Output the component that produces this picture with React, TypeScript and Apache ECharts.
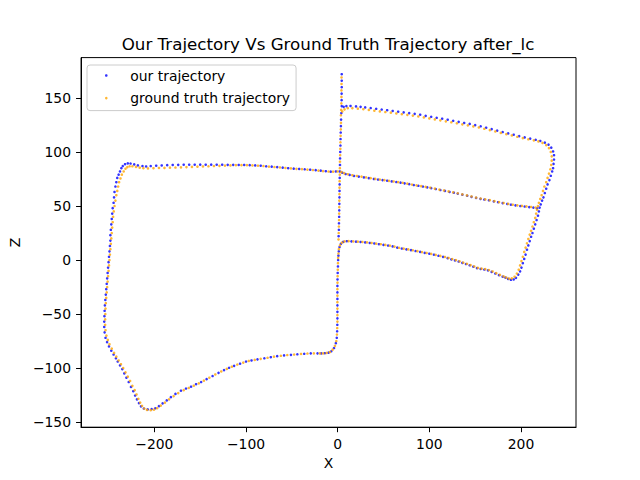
import * as echarts from "echarts";
import { useEffect, useRef } from "react";

// x / z pairs
const ourTrajectory = [
  [4.4, 172], [4.4, 166], [4.4, 160], [4.3, 154], [4.3, 148], [4.4, 142.5],
  [6.5, 141.8], [9.5, 142.5], [14, 142.6], [20, 142.2], [25, 141.8], [30, 141.3], [36, 140.7], [42, 140],
  [48, 139.3], [54, 138.7], [60, 138], [66, 137.3], [72, 136.7], [78, 136], [84, 135.3], [90, 134.5],
  [96, 133.5], [102, 132.6], [108, 131.7], [114, 130.8], [120, 129.9], [126, 128.9], [132, 127.9],
  [138, 126.9], [144, 126], [150, 124.9], [156, 123.8], [162, 122.5], [168, 121.2], [174, 119.8],
  [180, 118.5], [186, 117.2], [192, 116], [198, 114.7], [204, 113.5], [210, 112.4], [216, 111.3],
  [221, 110.2], [226, 108.7], [230, 106.8], [233, 104], [235, 100.5], [236, 97], [236, 93], [235.5, 89], [235, 85],
  [234, 82], [232.5, 78], [231, 74], [229, 70], [227.5, 66], [226, 62], [224.5, 58], [223, 55], [221.5, 51.5],
  [220.3, 48.5], [219.5, 45], [218.5, 41], [217, 37], [215.5, 33], [214, 29], [212.5, 25], [211, 21.5],
  [209.5, 17.5], [208, 13.5], [206.5, 9.5], [205, 5], [203.5, 1], [202, -3], [200.5, -7], [199, -10.5],
  [197, -13.5], [194.5, -16.5], [192, -18], [189, -18.3], [186, -17.5], [183, -16.3],
  [180, -15.5], [176, -14], [172, -12.5], [168, -11], [164, -9.6], [160, -8.8], [156, -8.3], [152, -7.5],
  [148, -6.2], [144, -4.9], [140, -3.7], [136, -2.6], [132, -1.4], [128, -0.4], [124, 0.6], [120, 1.7],
  [115, 2.9], [110, 3.9], [105, 4.9], [100, 5.8], [95, 6.6], [90, 7.5], [85, 8.3], [80, 9.1], [75, 9.9],
  [70, 10.6], [65, 11.5], [60, 12.6], [55, 13.4], [50, 14], [45, 14.6], [40, 15.3], [35, 15.8], [30, 16.3],
  [25, 16.7], [20, 17], [15, 17.3], [10, 17.4], [6, 16.8], [3.5, 15], [2, 12], [1.2, 8], [0.8, 4],
  [0.5, 0], [0.3, -6], [0, -12], [-0.2, -18], [-0.3, -24], [-0.3, -30], [-0.3, -36], [-0.3, -42],
  [-0.3, -48], [-0.3, -54], [-0.4, -60], [-0.6, -66], [-1, -72], [-2, -77], [-4, -81.5], [-7, -84.5],
  [-10, -85.8], [-14, -86.3],
  [1, 22], [1.3, 28], [1.4, 34], [1.6, 40], [1.7, 46], [1.8, 52], [1.9, 58], [2, 64], [2.1, 70], [2.2, 76],
  [2.3, 82], [2.5, 88], [2.6, 94], [2.8, 100], [3, 106], [3.1, 112], [3.3, 118], [3.5, 124], [3.7, 130], [4, 136],
  [217.5, 47.8], [213.5, 48.5], [209, 49], [204, 49.5], [199.3, 50], [194, 50.6], [189, 51.2], [185, 51.9],
  [180, 52.7], [175, 53.5], [170.3, 54.3], [165, 55.3], [160, 56], [155.8, 56.6], [151, 57.5], [146, 58.5],
  [141.3, 59.5], [136, 60.5], [131, 61.5], [126.7, 62.3], [122, 63], [117, 64], [112, 64.8], [107, 65.7],
  [102, 66.5], [97.7, 67.3], [93, 68], [88, 68.7], [83, 69.4], [78, 70.2], [73, 71], [68.6, 71.6], [64, 72.2],
  [59, 72.8], [54, 73.4], [49, 74], [44, 74.5], [39.5, 75], [34, 75.8], [28.6, 76.5], [23, 77.2], [17.8, 77.8],
  [13, 78.8], [8.7, 79.6], [5, 80.8], [-2, 82], [-7.6, 81.8], [-13, 82.2], [-18.5, 82.7],
  [-24, 83.2], [-30, 83.6], [-36, 84], [-42, 84.3], [-48, 84.6], [-54, 85], [-60, 85.5], [-66, 86],
  [-72, 86.4], [-78, 86.8], [-84, 87.3], [-90, 87.6], [-96, 87.8], [-102, 88], [-108, 88], [-114, 88.1],
  [-120, 88.1], [-126, 88.2], [-132, 88.2], [-138, 88.3], [-144, 88.2], [-150, 88.3], [-156, 88.2],
  [-162, 88.2], [-168, 88.2], [-174, 88.1], [-180, 88], [-186, 87.8], [-192, 87.5], [-198, 87.3],
  [-204, 87], [-209, 86.6], [-213, 87], [-218, 87.6], [-222, 88.5], [-226, 89.3], [-229, 89.5],
  [-232, 88.7], [-234.5, 87], [-236, 85], [-237.5, 82], [-239, 79], [-240.5, 76], [-241.5, 72],
  [-242.5, 68], [-243.5, 63], [-244, 58], [-244.5, 53], [-245.5, 48], [-246, 43], [-246.5, 38],
  [-247, 33], [-247.5, 28], [-248, 23], [-248, 18], [-248.5, 13], [-249, 8], [-249.5, 3], [-250, -2],
  [-250.5, -7], [-251, -12], [-251.5, -17], [-252, -22], [-252.5, -27], [-253, -32], [-253.5, -37],
  [-254, -42], [-254.3, -47], [-254.5, -52], [-254.7, -57], [-254.7, -62], [-254.3, -67], [-253.3, -72],
  [-251.6, -76], [-249.5, -80], [-247, -84], [-244.5, -87.5], [-242, -91], [-240, -94], [-237.5, -97.5],
  [-235, -101], [-232.8, -105], [-230.5, -109], [-228, -113], [-225.5, -117.5], [-223, -121.5],
  [-221, -125.5], [-219, -129], [-216.8, -132.5], [-214.6, -135.5], [-211.5, -137.5], [-207.3, -138.3],
  [-203, -138], [-199, -137.3], [-195, -135.3], [-191, -132.7], [-186.5, -130], [-182, -127], [-177, -124],
  [-171, -121], [-165.5, -119], [-160, -117.3], [-154.5, -115], [-149, -113], [-143, -110.3],
  [-136.5, -107.4], [-130, -104.5], [-124, -101.9], [-118.5, -99.8], [-113, -98], [-106.5, -96],
  [-100, -94], [-94, -93], [-87.5, -92], [-80, -91], [-73, -90], [-66, -89], [-58.5, -88.3], [-51, -87.8],
  [-44, -87.3], [-36.5, -86.8], [-29.4, -86.4], [-22, -86.4], [-18, -86.4],
];

const groundTruth = [
  [4.2, 169], [4.2, 163], [4.1, 157], [4.1, 151], [4, 145], [3.8, 139], [3.5, 134],
  [5, 137.5], [7.5, 139.5], [11, 140.6], [16, 140.6], [22, 140.1], [28, 139.6], [34, 139], [40, 138.3],
  [46, 137.6], [52, 137], [58, 136.4], [64, 135.7], [70, 135], [76, 134.4], [82, 133.7], [88, 132.9],
  [94, 132], [100, 131.1], [106, 130.2], [112, 129.3], [118, 128.4], [124, 127.5], [130, 126.6],
  [136, 125.6], [142, 124.7], [148, 123.7], [154, 122.7], [160, 121.5], [166, 120.3], [172, 119],
  [178, 117.7], [184, 116.5], [190, 115.3], [196, 114.1], [202, 112.9], [208, 111.8], [214, 110.8],
  [219, 109.8], [223.5, 108.4], [227.5, 106.4], [230.5, 103.6], [232.5, 100], [233.5, 96], [233.5, 92],
  [233, 88], [232, 84],
  [230.5, 80], [229, 76], [227.5, 72], [225.5, 68], [224, 64], [222.5, 60], [221, 56.5], [219.5, 53],
  [218.5, 50], [217.5, 46.5], [216.5, 43], [215.5, 39], [214, 35], [212.5, 31], [211, 27], [209.5, 23.5],
  [208, 19.5], [206.5, 15.5], [205, 11.5], [203.5, 7.5], [202, 3], [200.5, -1], [199, -5], [197.5, -9],
  [195.5, -12.5], [193, -15.5], [190, -17], [187, -17.2], [184, -16.3],
  [181, -15.2], [177, -13.8], [173, -12.2], [169, -10.6], [165, -9.3], [161, -8.5], [157, -8], [153, -7.3],
  [149, -6], [145, -4.7], [141, -3.5], [137, -2.4], [133, -1.2], [129, -0.1], [125, 0.9], [121, 1.9],
  [117, 2.8], [112, 3.8], [107, 4.8], [102, 5.7], [97, 6.5], [92, 7.3], [87, 8.2], [82, 9], [77, 9.8],
  [72, 10.5], [67, 11.3], [62, 12.4], [57, 13.3], [52, 14], [47, 14.6], [42, 15.2], [37, 15.8], [32, 16.3],
  [27, 16.7], [22, 17], [17, 17.3], [12, 17.5], [7.5, 17.2], [4.5, 16], [2.5, 13.5], [1.3, 10], [0.8, 6], [0.5, 2],
  [0.3, -3], [0.1, -9], [-0.1, -15], [-0.2, -21], [-0.3, -27], [-0.3, -33], [-0.3, -39], [-0.3, -45],
  [-0.3, -51], [-0.3, -57], [-0.5, -63], [-0.8, -69], [-1.5, -75], [-3, -79.5], [-5.5, -83], [-8.5, -85.2],
  [-12, -86.1], [-16, -86.5],
  [0.9, 19], [1.1, 25], [1.3, 31], [1.5, 37], [1.6, 43], [1.7, 49], [1.8, 55], [1.9, 61], [2, 67], [2.1, 73],
  [2.3, 79], [2.4, 85], [2.5, 91], [2.7, 97], [2.9, 103], [3, 109], [3.2, 115], [3.4, 121], [3.6, 127],
  [216, 48.6], [211, 49.1], [206, 49.6], [201, 50.1], [196, 50.6], [191, 51.2], [186, 52], [181, 52.8],
  [176, 53.6], [171, 54.5], [166, 55.4], [161, 56.1], [156, 56.9], [151, 57.8], [146, 58.8], [141, 59.8],
  [136, 60.8], [131, 61.8], [126, 62.7], [121, 63.5], [116, 64.4], [111, 65.2], [106, 66.1], [101, 66.9],
  [96, 67.7], [91, 68.4], [86, 69.1], [81, 69.9], [76, 70.7], [71, 71.5], [66, 72.1], [61, 72.7], [56, 73.3],
  [51, 73.9], [46, 74.5], [41, 75.1], [36, 75.8], [31, 76.5], [26, 77.2], [21, 77.8], [16, 78.5], [11, 79.4],
  [7, 80.4], [4, 81.5], [0, 82], [-5, 81.8], [-10, 81.9], [-16, 82.3],
  [-21, 82.8], [-27, 83.3], [-33, 83.7], [-39, 84.1], [-45, 84.4], [-51, 84.8], [-57, 85.2], [-63, 85.7],
  [-69, 86.1], [-75, 86.5], [-81, 87], [-87, 87.3], [-93, 87.6], [-99, 87.8], [-105, 87.8], [-111, 87.8],
  [-117, 87.6], [-123, 87.4], [-129, 87.2], [-135, 87], [-141, 86.8], [-147, 86.6], [-153, 86.4],
  [-159, 86.2], [-165, 86], [-171, 85.8], [-177, 85.6], [-183, 85.5], [-189, 85.3], [-195, 85.2],
  [-201, 85], [-207, 84.8], [-212, 85], [-216, 85.5], [-220, 86.2], [-224, 86.8], [-227, 86.8],
  [-229.5, 86], [-231.5, 84.5], [-233.5, 82], [-235.5, 79], [-237, 75.5], [-238.5, 72], [-239.5, 68],
  [-240.5, 64], [-241.5, 60], [-242.5, 55], [-243.5, 50], [-244.3, 45], [-245, 40], [-245.5, 35],
  [-246, 30], [-246.5, 25], [-247, 20], [-247.5, 15], [-248, 10], [-248.5, 5], [-249, 0], [-249.5, -5],
  [-250, -10], [-250.5, -15], [-251, -20], [-251.5, -25], [-252, -30], [-252.5, -35], [-253, -40],
  [-253.3, -45], [-253.5, -50], [-253.7, -55], [-253.7, -60], [-253.3, -65], [-252.3, -70], [-250.8, -74],
  [-249, -78], [-246.5, -82], [-244, -86], [-241.5, -89.5], [-239, -93], [-236.5, -96.5], [-234, -100],
  [-231.5, -104], [-229, -108], [-226.5, -112], [-224, -116.5], [-221.5, -120.5], [-219.5, -124.5],
  [-217.5, -128.5], [-215.5, -132], [-213.5, -135], [-211, -137.5], [-208, -138.8], [-204, -139],
  [-200.5, -138.6], [-197, -137.2], [-193, -134.8], [-188.5, -132], [-184, -129], [-179, -126],
  [-174, -123.2], [-168, -120.5], [-162.5, -118.5], [-157, -116.4], [-151.5, -114.2], [-146, -111.7],
  [-140, -109], [-133.5, -106], [-127, -103.2], [-121, -100.8], [-115.5, -98.8], [-109.5, -96.8],
  [-103, -95], [-97, -93.5], [-90.5, -92.5], [-84, -91.5], [-76.5, -90.5], [-69.5, -89.5], [-62, -88.7],
  [-55, -88], [-47.5, -87.5], [-40, -87], [-33, -86.6], [-26, -86.4], [-19.5, -86.4],
];

const xTicks = [-200, -100, 0, 100, 200];
const zTicks = [-150, -100, -50, 0, 50, 100, 150];

const FONT = "DejaVu Sans";
const minus = (v: number) => (v < 0 ? "\u2212" + Math.abs(v) : String(v));

export default function App() {
  const chartRef = useRef<HTMLDivElement>(null);
  useEffect(() => {
    const chart = echarts.init(chartRef.current, null, { renderer: "svg" });
    chart.setOption(getChartOption());
    return () => {
      chart.dispose();
    };
  }, []);

  return (
    <div
      ref={chartRef}
      style={{ position: "fixed", left: 0, top: 0, width: "640px", height: "480px", background: "#fff" }}
    />
  );
}

function getChartOption() {
  const axisCommon = {
    type: "value",
    nameLocation: "middle",
    nameTextStyle: { fontFamily: FONT, fontSize: 13.9, color: "#000" },
    axisLine: { show: true, onZero: false, lineStyle: { color: "#000", width: 1 } },
    axisTick: { show: true, length: 5, lineStyle: { color: "#000", width: 1 } },
    axisLabel: { fontFamily: FONT, fontSize: 13.9, color: "#000", margin: 10, formatter: minus },
    splitLine: { show: false },
  };
  return {
    animation: false,
    title: {
      text: "Our Trajectory Vs Ground Truth Trajectory after_lc",
      left: 328,
      top: 35,
      padding: 0,
      textAlign: "center",
      textStyle: { fontFamily: FONT, fontSize: 16.7, fontWeight: "normal", color: "#000" },
    },
    legend: {
      data: ["our trajectory", "ground truth trajectory"],
      orient: "vertical",
      left: 87,
      top: 65,
      icon: "circle",
      itemWidth: 38,
      itemHeight: 2.6,
      itemGap: 2.6,
      selectedMode: false,
      // the item box starts at the drawn dot, so the left padding places the dot
      padding: [0.5, 6, 2.5, 18],
      backgroundColor: "rgba(255,255,255,0.8)",
      borderColor: "#cccccc",
      borderWidth: 1,
      borderRadius: 3,
      textStyle: { fontFamily: FONT, fontSize: 13.9, color: "#000", lineHeight: 20 },
    },
    grid: {
      left: 80,
      right: 64,
      top: 57.6,
      bottom: 52.8,
      show: true,
      borderColor: "#000",
      borderWidth: 1,
      backgroundColor: "transparent",
    },
    xAxis: {
      ...axisCommon,
      name: "X",
      nameGap: 27,
      min: -280,
      max: 260,
      axisTick: { ...axisCommon.axisTick, customValues: xTicks },
      axisLabel: { ...axisCommon.axisLabel, customValues: xTicks },
    },
    yAxis: {
      ...axisCommon,
      name: "Z",
      nameGap: 57,
      min: -154.8,
      max: 187.4,
      axisTick: { ...axisCommon.axisTick, customValues: zTicks },
      axisLabel: { ...axisCommon.axisLabel, customValues: zTicks },
    },
    series: [
      {
        name: "our trajectory",
        type: "scatter",
        data: ourTrajectory,
        symbolSize: 2.6,
        itemStyle: { color: "#0000ff" },
        silent: true,
      },
      {
        name: "ground truth trajectory",
        type: "scatter",
        data: groundTruth,
        symbolSize: 2.6,
        itemStyle: { color: "#ffa500" },
        silent: true,
      },
    ],
  };
}
